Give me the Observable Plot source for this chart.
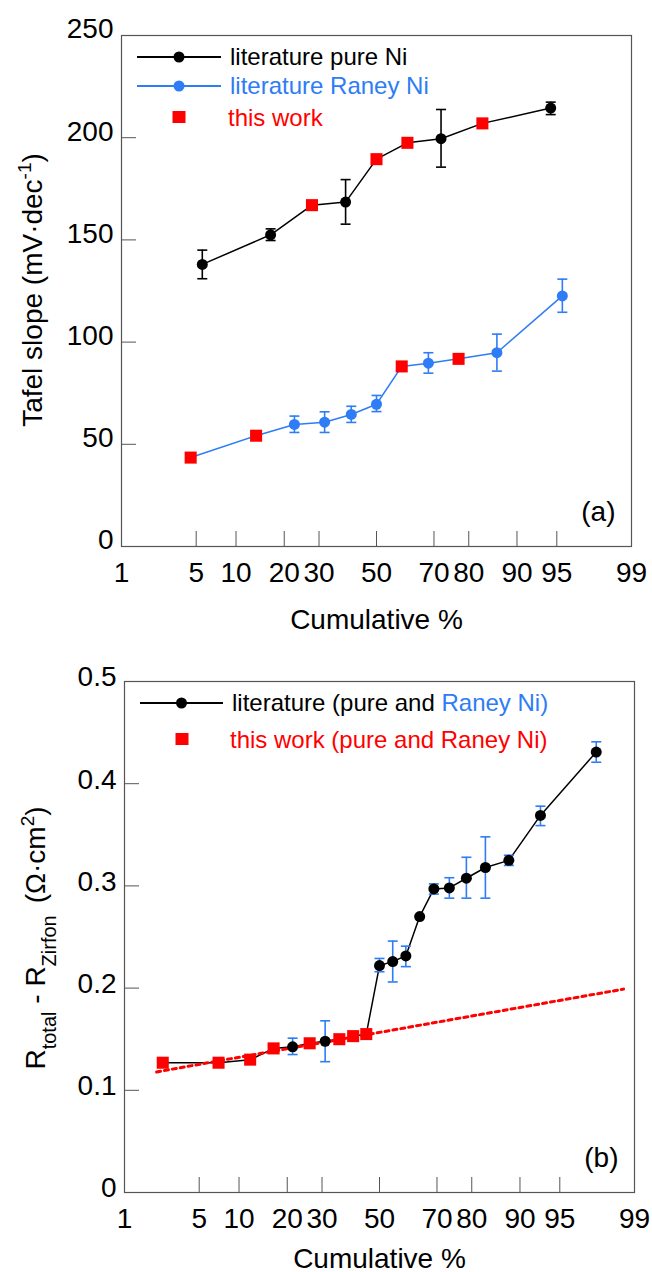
<!DOCTYPE html>
<html>
<head>
<meta charset="utf-8">
<script src="https://cdn.jsdelivr.net/npm/d3@7"></script>
<script src="https://cdn.jsdelivr.net/npm/@observablehq/plot@0.6"></script>
<style>
  html, body { margin: 0; padding: 0; background: #fff; overflow: hidden; }
  svg { display: block; }
</style>
</head>
<body>
<div id="a"></div>
<div id="b"></div>
<script>
// ---------- data ----------
const xTickLabels = [1, 5, 10, 20, 30, 50, 70, 80, 90, 95, 99];
const xInnerTicks = [5, 10, 20, 30, 50, 70, 80, 90, 95];

// panel (a): Tafel slope, pure Ni
const pureCum    = [5.6, 16.7, 27.8, 38.9, 50.0, 61.1, 72.2, 83.3, 94.4];
const pureTafel  = [138, 152.5, 167, 168.5, 189.5, 197.5, 199.5, 207, 214.5];
const pureSource = ["lit", "lit", "this", "lit", "this", "this", "lit", "this", "lit"];
const pureLow    = [131, 149.7, null, 157.7, null, null, 185.6, null, 211.3];
const pureHigh   = [145, 155.4, null, 179.5, null, null, 213.8, null, 217.4];

// panel (a): Tafel slope, Raney Ni
const raneyCum    = [4.5, 13.6, 22.7, 31.8, 40.9, 50.0, 59.1, 68.2, 77.3, 86.4, 95.5];
const raneyTafel  = [43.5, 54.2, 59.7, 60.8, 64.6, 69.6, 88.1, 89.7, 91.8, 94.8, 122.6];
const raneySource = ["this", "this", "lit", "lit", "lit", "lit", "this", "lit", "this", "lit", "lit"];
const raneyLow    = [null, null, 55.8, 55.8, 60.7, 66.0, null, 84.8, null, 85.8, 114.6];
const raneyHigh   = [null, null, 63.8, 65.9, 68.6, 73.9, null, 94.8, null, 103.9, 130.8];
const yTicksA = [0, 50, 100, 150, 200, 250];

// panel (b): R_total - R_Zirfon
const resCum    = [2.4, 7.1, 11.9, 16.7, 21.4, 26.2, 31.0, 35.7, 40.5, 45.2, 50.0,
                   54.8, 59.5, 64.3, 69.0, 73.8, 78.6, 83.3, 88.1, 92.9, 97.6];
const resValue  = [0.127, 0.127, 0.130, 0.141, 0.1425, 0.146, 0.148, 0.150, 0.153, 0.155, 0.222,
                   0.226, 0.2315, 0.270, 0.297, 0.298, 0.3075, 0.318, 0.325, 0.369, 0.431];
const resSource = ["this", "this", "this", "this", "lit", "this", "lit", "this", "this", "this", "lit",
                   "lit", "lit", "lit", "lit", "lit", "lit", "lit", "lit", "lit", "lit"];
const resLow    = [null, null, null, null, 0.135, null, 0.128, null, null, null, 0.216,
                   0.206, 0.221, null, 0.292, 0.288, 0.288, 0.288, 0.320, 0.359, 0.421];
const resHigh   = [null, null, null, null, 0.151, null, 0.168, null, null, null, 0.229,
                   0.246, 0.241, null, 0.302, 0.308, 0.328, 0.348, 0.330, 0.378, 0.441];
const fitCum   = [2.1, 98.7];
const fitValue = [0.118, 0.199];
const yTicksB = [0, 0.1, 0.2, 0.3, 0.4, 0.5];

// ---------- colours ----------
const BLACK = "#000000", BLUE = "#2e7cf6", RED = "#ff0000", AXIS = "#555555";
const FONT = "'Liberation Sans', Arial, Helvetica, sans-serif";

// ---------- probit transform (inverse normal CDF, Acklam) ----------
function probit(p) {
  const a = [-3.969683028665376e+01, 2.209460984245205e+02, -2.759285104469687e+02, 1.383577518672690e+02, -3.066479806614716e+01, 2.506628277459239e+00];
  const b = [-5.447609879822406e+01, 1.615858368580409e+02, -1.556989798598866e+02, 6.680131188771972e+01, -1.328068155288572e+01];
  const c = [-7.784894002430293e-03, -3.223964580411365e-01, -2.400758277161838e+00, -2.549732539343734e+00, 4.374664141464968e+00, 2.938163982698783e+00];
  const d = [7.784695709041462e-03, 3.224671290700398e-01, 2.445134137142996e+00, 3.754408661907416e+00];
  const pl = 0.02425, ph = 1 - pl;
  let q, r;
  if (p < pl) {
    q = Math.sqrt(-2 * Math.log(p));
    return (((((c[0]*q+c[1])*q+c[2])*q+c[3])*q+c[4])*q+c[5]) / ((((d[0]*q+d[1])*q+d[2])*q+d[3])*q+1);
  }
  if (p <= ph) {
    q = p - 0.5; r = q * q;
    return (((((a[0]*r+a[1])*r+a[2])*r+a[3])*r+a[4])*r+a[5])*q / (((((b[0]*r+b[1])*r+b[2])*r+b[3])*r+b[4])*r+1);
  }
  q = Math.sqrt(-2 * Math.log(1 - p));
  return -(((((c[0]*q+c[1])*q+c[2])*q+c[3])*q+c[4])*q+c[5]) / ((((d[0]*q+d[1])*q+d[2])*q+d[3])*q+1);
}
const zOf = pct => probit(pct / 100);
const xLabelZ = xTickLabels.map(zOf);
const xLabelMap = new Map(xLabelZ.map((z, i) => [z, String(xTickLabels[i])]));
const xInnerZ = xInnerTicks.map(zOf);
const xDomain = [zOf(1), zOf(99)];

function rows(cum, val, src, lo, hi) {
  return cum.map((c, i) => ({z: zOf(c), v: val[i], src: src[i], lo: lo[i], hi: hi[i]}));
}
const pure = rows(pureCum, pureTafel, pureSource, pureLow, pureHigh);
const raney = rows(raneyCum, raneyTafel, raneySource, raneyLow, raneyHigh);
const res = rows(resCum, resValue, resSource, resLow, resHigh);
const fit = fitCum.map((c, i) => ({z: zOf(c), v: fitValue[i]}));

// horizontal cap symbol for error bars
const capSymbol = { draw(ctx, size) { const w = Math.sqrt(size / Math.PI); ctx.moveTo(-w, 0); ctx.lineTo(w, 0); } };

function errorMarks(data, color) {
  const e = data.filter(d => d.lo != null);
  return [
    Plot.ruleX(e, {x: "z", y1: "lo", y2: "hi", stroke: color, strokeWidth: 1.6}),
    Plot.dot(e, {x: "z", y: "lo", symbol: capSymbol, r: 5, stroke: color, strokeWidth: 1.6, fill: "none"}),
    Plot.dot(e, {x: "z", y: "hi", symbol: capSymbol, r: 5, stroke: color, strokeWidth: 1.6, fill: "none"})
  ];
}

function axes(yTicks, yDy) {
  return [
    Plot.frame({stroke: AXIS, strokeWidth: 1.2}),
    Plot.axisX(xInnerZ, {tickSize: -15, fill: "none", stroke: AXIS, label: null}),
    Plot.axisX(xLabelZ, {tickSize: 0, tickPadding: 16, tickFormat: z => xLabelMap.get(z), fontSize: 28, fill: BLACK, label: null}),
    Plot.axisY(yTicks, {tickSize: -15, fill: "none", stroke: AXIS, label: null}),
    Plot.axisY(yTicks, {tickSize: 0, tickPadding: 8, tickFormat: v => String(v), fontSize: 28, dy: yDy, fill: BLACK, label: null})
  ];
}

const style = {fontFamily: FONT, fontSize: "28px", color: "black", background: "white", overflow: "visible"};

// ---------- panel (a) ----------
const plotA = Plot.plot({
  width: 652, height: 640,
  marginTop: 35, marginRight: 21, marginBottom: 94, marginLeft: 121,
  style,
  x: {domain: xDomain},
  y: {domain: [0, 250]},
  marks: [
    ...axes(yTicksA, -6),
    Plot.line(pure, {x: "z", y: "v", stroke: BLACK, strokeWidth: 1.5}),
    Plot.line(raney, {x: "z", y: "v", stroke: BLUE, strokeWidth: 1.5}),
    ...errorMarks(pure, BLACK),
    ...errorMarks(raney, BLUE),
    Plot.dot(pure.filter(d => d.src === "lit"), {x: "z", y: "v", r: 5.5, fill: BLACK}),
    Plot.dot(raney.filter(d => d.src === "lit"), {x: "z", y: "v", r: 5.5, fill: BLUE}),
    Plot.dot(pure.filter(d => d.src === "this"), {x: "z", y: "v", symbol: "square", r: 6.8, fill: RED}),
    Plot.dot(raney.filter(d => d.src === "this"), {x: "z", y: "v", symbol: "square", r: 6.8, fill: RED}),
    Plot.text(["(a)"], {frameAnchor: "bottom-right", dx: -16, dy: -26, textAnchor: "end", lineAnchor: "bottom", fontSize: 28, fill: BLACK}),
    Plot.text(["Cumulative %"], {frameAnchor: "bottom", dy: 82, lineAnchor: "bottom", fontSize: 28, fill: BLACK})
  ]
});
document.getElementById("a").appendChild(plotA);

// ---------- panel (b) ----------
const plotB = Plot.plot({
  width: 652, height: 632,
  marginTop: 41, marginRight: 18, marginBottom: 80, marginLeft: 124,
  style,
  x: {domain: xDomain},
  y: {domain: [0, 0.5]},
  marks: [
    ...axes(yTicksB, -4),
    Plot.line(res, {x: "z", y: "v", stroke: BLACK, strokeWidth: 1.5}),
    Plot.line(fit, {x: "z", y: "v", stroke: RED, strokeWidth: 3, strokeDasharray: "4,4"}),
    ...errorMarks(res, BLUE),
    Plot.dot(res.filter(d => d.src === "lit"), {x: "z", y: "v", r: 5.5, fill: BLACK}),
    Plot.dot(res.filter(d => d.src === "this"), {x: "z", y: "v", symbol: "square", r: 6.8, fill: RED}),
    Plot.text(["(b)"], {frameAnchor: "bottom-right", dx: -16, dy: -26, textAnchor: "end", lineAnchor: "bottom", fontSize: 28, fill: BLACK}),
    Plot.text(["Cumulative %"], {frameAnchor: "bottom", dy: 75, lineAnchor: "bottom", fontSize: 28, fill: BLACK})
  ]
});
document.getElementById("b").appendChild(plotB);

// ---------- y-axis titles and legends (text overlays) ----------
const sa = d3.select(plotA);
const ta = sa.append("text")
  .attr("transform", "translate(42,290) rotate(-90)")
  .attr("text-anchor", "middle").attr("font-family", FONT).attr("font-size", 28).attr("fill", BLACK);
ta.append("tspan").text("Tafel slope (mV\u00B7dec");
ta.append("tspan").attr("dy", -11).attr("font-size", 19).text("-1");
ta.append("tspan").attr("dy", 11).text(")");

function legendLine(svg, x1, x2, y, color) {
  svg.append("line").attr("x1", x1).attr("x2", x2).attr("y1", y).attr("y2", y).attr("stroke", color).attr("stroke-width", 2);
  svg.append("circle").attr("cx", (x1 + x2) / 2).attr("cy", y).attr("r", 5.5).attr("fill", color);
}
function legendSquare(svg, x, y) {
  svg.append("rect").attr("x", x - 6.5).attr("y", y - 6).attr("width", 13).attr("height", 12).attr("fill", RED);
}
function legendText(svg, x, y, parts) {
  const t = svg.append("text").attr("x", x).attr("y", y).attr("text-anchor", "start")
    .attr("font-family", FONT).attr("font-size", 24);
  parts.forEach(([s, c]) => t.append("tspan").attr("fill", c).text(s));
}
legendLine(sa, 137, 221, 57, BLACK);
legendText(sa, 230, 65, [["literature pure Ni", BLACK]]);
legendLine(sa, 137, 221, 86, BLUE);
legendText(sa, 230, 94, [["literature Raney Ni", BLUE]]);
legendSquare(sa, 179, 117);
legendText(sa, 228, 125.5, [["this work", RED]]);

const sb = d3.select(plotB);
const tb = sb.append("text")
  .attr("transform", "translate(45,298) rotate(-90)")
  .attr("text-anchor", "middle").attr("font-family", FONT).attr("font-size", 28).attr("fill", BLACK);
tb.append("tspan").text("R");
tb.append("tspan").attr("dy", 11).attr("font-size", 20).text("total");
tb.append("tspan").attr("dy", -11).text("\u00A0-\u00A0R");
tb.append("tspan").attr("dy", 11).attr("font-size", 20).text("Zirfon");
tb.append("tspan").attr("dy", -11).attr("dx", 12).text("(\u03A9\u00B7cm");
tb.append("tspan").attr("dy", -11).attr("font-size", 19).text("2");
tb.append("tspan").attr("dy", 11).text(")");

legendLine(sb, 140, 223, 63, BLACK);
legendText(sb, 232, 71, [["literature (pure and ", BLACK], ["Raney Ni)", BLUE]]);
legendSquare(sb, 182, 99);
legendText(sb, 230, 107.5, [["this work (pure and Raney Ni)", RED]]);
</script>
</body>
</html>
